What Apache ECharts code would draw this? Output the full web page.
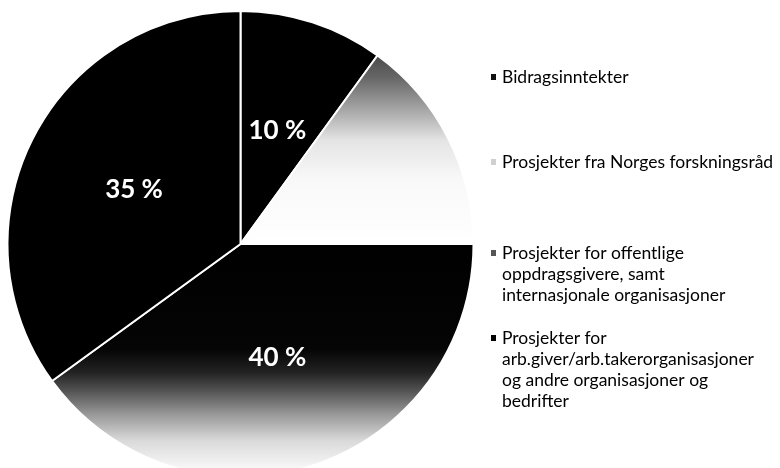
<!DOCTYPE html>
<html>
<head>
<meta charset="utf-8">
<script src="https://cdn.jsdelivr.net/npm/echarts@6/dist/echarts.min.js"></script>
<style>html,body{margin:0;padding:0;background:#fff}#c{width:780px;height:468px}</style>
</head>
<body>
<div id="c"></div>
<script>
var categories = [
  'Bidragsinntekter',
  'Prosjekter fra Norges forskningsråd',
  'Prosjekter for offentlige\noppdragsgivere, samt\ninternasjonale organisasjoner',
  'Prosjekter for\narb.giver/arb.takerorganisasjoner\nog andre organisasjoner og\nbedrifter'
];
var values = [10, 15, 40, 35];
var showLabel = [true, false, true, true];

var FONT = 'Lato';
var LINE_H = 21;
var legendTops = [66.5, 151.5, 200.5, 264.5];
var legendIconColors = ['#111', '#d0d0d0', '#555', '#000'];

var sliceColors = [
  '#000',
  new echarts.graphic.LinearGradient(0, 0, 0, 1, [
    {offset: 0, color: '#4a4a4a'},
    {offset: 0.12, color: '#666'},
    {offset: 0.3, color: '#aaa'},
    {offset: 0.45, color: '#e4e4e4'},
    {offset: 0.65, color: '#f8f8f8'},
    {offset: 1, color: '#fff'}
  ]),
  new echarts.graphic.LinearGradient(0, 0, 0, 1, [
    {offset: 0, color: '#000'},
    {offset: 0.45, color: '#050505'},
    {offset: 0.55, color: '#222'},
    {offset: 0.62, color: '#4d4d4d'},
    {offset: 0.73, color: '#999'},
    {offset: 0.84, color: '#d9d9d9'},
    {offset: 0.95, color: '#f5f5f5'},
    {offset: 1, color: '#fff'}
  ]),
  '#000'
];

var data = categories.map(function (name, i) {
  return {
    name: name,
    value: values[i],
    itemStyle: {color: sliceColors[i]},
    label: {show: showLabel[i]}
  };
});

var legends = categories.map(function (name, i) {
  var nLines = name.split('\n').length;
  return {
    data: [{name: name, itemStyle: {color: legendIconColors[i]}}],
    orient: 'vertical',
    left: 489,
    top: legendTops[i],
    padding: 0,
    itemWidth: 7,
    itemHeight: 8,
    itemGap: 0,
    icon: 'rect',
    selectedMode: false,
    formatter: function (n) {
      // pad with empty lines so the first line sits level with the icon
      return new Array(nLines).join('\n') + n;
    },
    textStyle: {
      fontFamily: FONT,
      fontSize: 17.5,
      color: '#000',
      lineHeight: LINE_H
    }
  };
});

var chart = echarts.init(document.getElementById('c'), null, {renderer: 'canvas'});
chart.setOption({
  backgroundColor: '#fff',
  animation: false,
  legend: legends,
  series: [{
    type: 'pie',
    center: [240.5, 244],
    radius: [0, 233],
    startAngle: 90,
    clockwise: true,
    avoidLabelOverlap: false,
    itemStyle: {borderColor: '#fff', borderWidth: 2},
    label: {
      position: 'inside',
      formatter: '{c} %',
      color: '#fff',
      fontFamily: FONT,
      fontSize: 26,
      fontWeight: 'bold'
    },
    labelLine: {show: false},
    emphasis: {disabled: true},
    data: data
  }]
});
</script>
</body>
</html>
